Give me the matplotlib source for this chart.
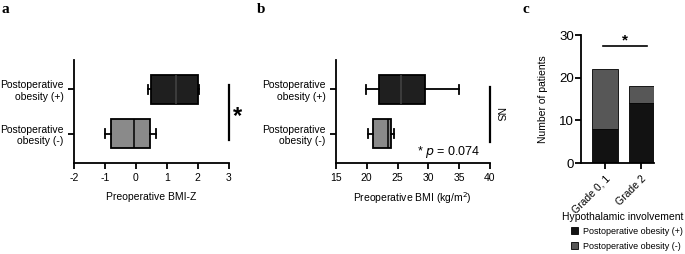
import matplotlib.pyplot as plt

plt.rcParams['font.family'] = ['Liberation Sans', 'DejaVu Sans']
plt.rcParams['font.size'] = 7
plt.rcParams['axes.unicode_minus'] = False

groups = ['Postoperative\nobesity (+)', 'Postoperative\nobesity (-)']

# box stats: whislo, q1, med, q3, whishi
bmiz_pos = [0.4, 0.5, 1.3, 2.0, 2.05]
bmiz_neg = [-1.0, -0.8, -0.05, 0.45, 0.65]
bmi_pos = [19.8, 22.0, 25.5, 29.4, 35.0]
bmi_neg = [20.2, 21.0, 23.5, 24.0, 24.5]

grades = ['Grade 0, 1', 'Grade 2']
obese_pos = [8, 14]
obese_neg = [14, 4]

box_dark = '#1f1f1f'
box_gray = '#8a8a8a'
bar_dark = '#121212'
bar_gray = '#575757'


def stats(v):
    return dict(whislo=v[0], q1=v[1], med=v[2], q3=v[3], whishi=v[4], fliers=[])


def boxpanel(ax, pos, neg, xlim, xticks):
    b = ax.bxp([stats(pos), stats(neg)], positions=[1, 2], vert=False,
               widths=0.64, capwidths=0.2, patch_artist=True,
               boxprops=dict(linewidth=1.3, edgecolor='black'),
               whiskerprops=dict(linewidth=1.3),
               capprops=dict(linewidth=1.3),
               medianprops=dict(color='black', linewidth=1.1))
    b['boxes'][0].set_facecolor(box_dark)
    b['boxes'][1].set_facecolor(box_gray)
    b['medians'][0].set_color('#444444')
    ax.set_ylim(2.67, 0.33)
    ax.set_xlim(*xlim)
    ax.set_xticks(xticks)
    ax.set_yticks([1, 2])
    ax.set_yticklabels(groups, fontsize=7.5)
    for s in ['top', 'right']:
        ax.spines[s].set_visible(False)
    for s in ['left', 'bottom']:
        ax.spines[s].set_linewidth(1.3)
    ax.tick_params(width=1.3, length=4, labelsize=7.5)


fig = plt.figure(figsize=(6.85, 2.54), dpi=100)

ax1 = fig.add_axes([0.108, 0.358, 0.226, 0.406])
boxpanel(ax1, bmiz_pos, bmiz_neg, (-2, 3), [-2, -1, 0, 1, 2, 3])
ax1.set_xlabel('Preoperative BMI-Z', fontsize=7.5, labelpad=6)
ax1.plot([3, 3], [0.9, 2.15], color='black', lw=1.6, clip_on=False)
ax1.text(3.28, 1.62, '*', fontsize=17, fontweight='bold', ha='center', va='center')

ax2 = fig.add_axes([0.4905, 0.358, 0.2245, 0.406])
boxpanel(ax2, bmi_pos, bmi_neg, (15, 40), [15, 20, 25, 30, 35, 40])
ax2.set_xlabel('Preoperative BMI (kg/m$^2$)', fontsize=7.5, labelpad=5)
ax2.plot([40, 40], [0.95, 2.2], color='black', lw=1.6, clip_on=False)
ax2.text(41.6, 1.55, 'NS', rotation=-90, fontsize=7.5, ha='center', va='center')
ax2.text(38.5, 2.42, '* $p$ = 0.074', fontsize=9, ha='right', va='center')

ax3 = fig.add_axes([0.848, 0.358, 0.107, 0.504])
ax3.bar(grades, obese_pos, width=0.7, color=bar_dark, edgecolor='black', lw=0.6,
        label='Postoperative obesity (+)')
ax3.bar(grades, obese_neg, bottom=obese_pos, width=0.7, color=bar_gray,
        edgecolor='black', lw=0.6, label='Postoperative obesity (-)')
ax3.set_xlim(-0.67, 1.35)
ax3.set_ylim(0, 30)
ax3.set_yticks([0, 10, 20, 30])
ax3.set_xticks([0, 1])
ax3.set_xticklabels(grades, rotation=45, ha='right', rotation_mode='anchor', fontsize=7.5)
ax3.set_ylabel('Number of patients', fontsize=7.5, labelpad=8)
for s in ['top', 'right']:
    ax3.spines[s].set_visible(False)
for s in ['left', 'bottom']:
    ax3.spines[s].set_linewidth(1.3)
ax3.tick_params(axis='y', width=1.3, length=4, labelsize=9.5, pad=1)
ax3.tick_params(axis='x', width=1.3, length=4)
ax3.plot([-0.05, 1.15], [27.5, 27.5], color='black', lw=1.2)
ax3.text(0.55, 28.8, '*', fontsize=11, fontweight='bold', ha='center', va='center')

fig.text(0.8204, 0.1457, 'Hypothalamic involvement', fontsize=7.5, ha='left', va='center')
handles, labels = ax3.get_legend_handles_labels()
fig.legend(handles, labels, loc='upper left', bbox_to_anchor=(0.8277, 0.122),
           frameon=False, fontsize=6.5, handlelength=0.8, handleheight=0.8,
           handletextpad=0.55, labelspacing=0.67, borderpad=0.4, borderaxespad=0)

for x, lab in [(0.002, 'a'), (0.375, 'b'), (0.763, 'c')]:
    fig.text(x, 0.99, lab, fontsize=11, fontweight='bold', family='Liberation Serif',
             ha='left', va='top')

fig.savefig('out.png', dpi=100)
